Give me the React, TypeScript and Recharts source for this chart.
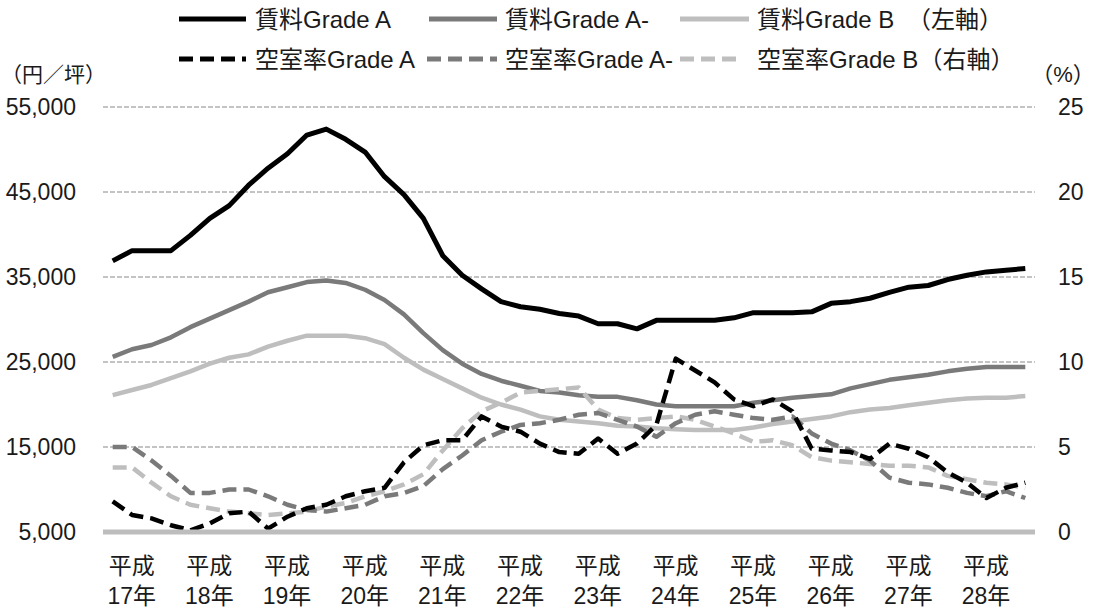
import React from 'react';
import { LineChart, Line, XAxis, YAxis, CartesianGrid, Legend } from 'recharts';

const quarters = [
  '17Q1', '17Q2', '17Q3', '17Q4', '18Q1', '18Q2', '18Q3', '18Q4',
  '19Q1', '19Q2', '19Q3', '19Q4', '20Q1', '20Q2', '20Q3', '20Q4',
  '21Q1', '21Q2', '21Q3', '21Q4', '22Q1', '22Q2', '22Q3', '22Q4',
  '23Q1', '23Q2', '23Q3', '23Q4', '24Q1', '24Q2', '24Q3', '24Q4',
  '25Q1', '25Q2', '25Q3', '25Q4', '26Q1', '26Q2', '26Q3', '26Q4',
  '27Q1', '27Q2', '27Q3', '27Q4', '28Q1', '28Q2', '28Q3', '28Q4',
];
const yearTicks = ['17Q1', '18Q1', '19Q1', '20Q1', '21Q1', '22Q1', '23Q1', '24Q1', '25Q1', '26Q1', '27Q1', '28Q1'];
const eraLabel = '平成';
const yearLabels = ['17年', '18年', '19年', '20年', '21年', '22年', '23年', '24年', '25年', '26年', '27年', '28年'];

const leftTicks = [5000, 15000, 25000, 35000, 45000, 55000];
const rightTicks = [0, 5, 10, 15, 20, 25];

// 賃料 (円/坪)
const rentA = [
  36900, 38100, 38100, 38100, 39900, 41900, 43400, 45800, 47800, 49500,
  51700, 52400, 51200, 49700, 46800, 44700, 41900, 37500, 35200, 33600,
  32100, 31500, 31200, 30700, 30400, 29500, 29500, 28900, 29900, 29900,
  29900, 29900, 30200, 30800, 30800, 30800, 30900, 31900, 32100, 32500,
  33200, 33800, 34000, 34700, 35200, 35600, 35800, 36000,
];
const rentAm = [
  25600, 26500, 27000, 27900, 29100, 30100, 31100, 32100, 33200, 33800,
  34400, 34600, 34300, 33500, 32300, 30600, 28400, 26400, 24800, 23600,
  22800, 22200, 21600, 21400, 21100, 20900, 20900, 20500, 20000, 19800,
  19800, 19800, 19800, 20200, 20500, 20800, 21000, 21200, 21900, 22400,
  22900, 23200, 23500, 23900, 24200, 24400, 24400, 24400,
];
const rentB = [
  21100, 21700, 22300, 23100, 23900, 24800, 25500, 25900, 26800, 27500,
  28100, 28100, 28100, 27800, 27100, 25500, 24100, 23000, 21900, 20800,
  20000, 19400, 18600, 18200, 18000, 17800, 17500, 17400, 17200, 17100,
  17000, 17000, 17000, 17300, 17700, 18000, 18300, 18600, 19100, 19400,
  19600, 19900, 20200, 20500, 20700, 20800, 20800, 21000,
];
// 空室率 (%)
const vacA = [
  1.8, 1.0, 0.8, 0.4, 0.1, 0.5, 1.1, 1.2, 0.2, 0.9,
  1.4, 1.6, 2.1, 2.4, 2.6, 4.1, 5.1, 5.4, 5.4, 6.8,
  6.2, 5.9, 5.2, 4.7, 4.6, 5.5, 4.6, 5.2, 6.3, 10.2,
  9.5, 8.8, 7.8, 7.4, 7.8, 7.1, 4.9, 4.8, 4.7, 4.3,
  5.2, 4.9, 4.4, 3.5, 2.9, 2.0, 2.6, 2.9,
];
const vacAm = [
  5.0, 5.0, 4.2, 3.3, 2.3, 2.3, 2.5, 2.5, 2.1, 1.6,
  1.3, 1.2, 1.4, 1.6, 2.1, 2.3, 2.7, 3.7, 4.5, 5.4,
  5.9, 6.3, 6.4, 6.6, 6.9, 7.0, 6.6, 6.2, 5.6, 6.4,
  6.9, 7.1, 6.9, 6.7, 6.6, 6.8, 5.8, 5.2, 4.8, 4.2,
  3.2, 2.9, 2.8, 2.6, 2.3, 2.1, 2.4, 2.0,
];
const vacB = [
  3.8, 3.8, 2.9, 2.1, 1.6, 1.4, 1.2, 1.1, 1.0, 1.1,
  1.2, 1.5, 1.7, 2.1, 2.4, 2.8, 3.4, 4.8, 6.1, 7.1,
  7.6, 8.2, 8.3, 8.4, 8.5, 7.2, 6.7, 6.6, 6.7, 6.8,
  6.6, 6.2, 5.8, 5.3, 5.4, 5.1, 4.4, 4.2, 4.1, 4.0,
  3.9, 3.9, 3.8, 3.3, 3.1, 2.9, 2.8, 2.6,
];

const data = quarters.map((q, i) => ({
  q,
  rentA: rentA[i],
  rentAm: rentAm[i],
  rentB: rentB[i],
  vacA: vacA[i],
  vacAm: vacAm[i],
  vacB: vacB[i],
}));

const BLACK = '#000000';
const MID = '#7a7a7a';
const LIGHT = '#bebebe';
const DASH = '14 7';
const FONT = '"Liberation Sans", Arial, "Noto Sans CJK JP", sans-serif';
const TEXT = '#1a1a1a';

const legendRow1 = [
  { label: '賃料Grade A', color: BLACK, dash: undefined, x1: 179, x2: 246, tx: 255 },
  { label: '賃料Grade A-', color: MID, dash: undefined, x1: 429, x2: 497, tx: 505 },
  { label: '賃料Grade B', color: LIGHT, dash: undefined, x1: 680, x2: 749, tx: 757 },
];
const legendRow2 = [
  { label: '空室率Grade A', color: BLACK, dash: DASH, x1: 179, x2: 246, tx: 255 },
  { label: '空室率Grade A-', color: MID, dash: DASH, x1: 427, x2: 497, tx: 505 },
  { label: '空室率Grade B（右軸）', color: LIGHT, dash: DASH, x1: 680, x2: 741, tx: 757 },
];

const renderLegend = () => (
  <svg width={1104} height={100} style={{ display: 'block', fontFamily: FONT }}>
    {legendRow1.map((it) => (
      <g key={it.label}>
        <line x1={it.x1} x2={it.x2} y1={19} y2={19} stroke={it.color} strokeWidth={5} />
        <text x={it.tx} y={19} dominantBaseline="central" fontSize={24} fill={TEXT}>{it.label}</text>
      </g>
    ))}
    <text x={907} y={19} dominantBaseline="central" fontSize={24} fill={TEXT}>（左軸）</text>
    {legendRow2.map((it) => (
      <g key={it.label}>
        <line x1={it.x1} x2={it.x2} y1={59} y2={59} stroke={it.color} strokeWidth={5} strokeDasharray={it.dash} />
        <text x={it.tx} y={59} dominantBaseline="central" fontSize={24} fill={TEXT}>{it.label}</text>
      </g>
    ))}
    <text x={1} y={74} textAnchor="start" dominantBaseline="central" fontSize={21} fill={TEXT}>（円／坪）</text>
    <text x={1063} y={74} textAnchor="middle" dominantBaseline="central" fontSize={22} fill={TEXT}>（%）</text>
  </svg>
);

const XTick = (props: any) => {
  const { x, y, payload } = props;
  const idx = yearTicks.indexOf(payload.value);
  if (idx < 0) return null;
  return (
    <g transform={`translate(${x + 19},${y})`}>
      <text x={0} y={34} textAnchor="middle" dominantBaseline="central" fontSize={23} fill={TEXT} fontFamily={FONT}>{eraLabel}</text>
      <text x={0} y={64} textAnchor="middle" dominantBaseline="central" fontSize={23} fill={TEXT} fontFamily={FONT}>{yearLabels[idx]}</text>
    </g>
  );
};

export default function App() {
  return (
    <div style={{ position: 'absolute', left: 0, top: 0, width: 1104, height: 609, background: '#fff' }}>
      <LineChart width={1104} height={609} data={data} margin={{ top: 107, right: 0, bottom: 0, left: 0 }}>
        <CartesianGrid yAxisId="left" vertical={false} stroke="#888" strokeDasharray="5 2" strokeWidth={1} />
        <XAxis
          dataKey="q"
          height={77}
          ticks={yearTicks}
          interval={0}
          tick={<XTick />}
          tickLine={false}
          tickSize={0}
          tickMargin={0}
          axisLine={{ stroke: '#bdbdbd', strokeWidth: 5 }}
          padding={{ left: 9.7, right: 9.7 }}
        />
        <YAxis
          yAxisId="left"
          orientation="left"
          width={103}
          domain={[5000, 55000]}
          ticks={leftTicks}
          interval={0}
          tickFormatter={(v: number) => v.toLocaleString('en-US')}
          axisLine={false}
          tickLine={false}
          tickSize={0}
          tickMargin={27}
          tick={{ fontSize: 23, fill: TEXT, fontFamily: FONT }}
        />
        <YAxis
          yAxisId="right"
          orientation="right"
          width={69}
          domain={[0, 25]}
          ticks={rightTicks}
          interval={0}
          axisLine={false}
          tickLine={false}
          tickSize={0}
          tickMargin={23}
          tick={{ fontSize: 23, fill: TEXT, fontFamily: FONT, textAnchor: 'start' }}
        />
        <Legend
          verticalAlign="middle"
          align="center"
          layout="horizontal"
          wrapperStyle={{ top: 0, left: 0, width: 1104, height: 100 }}
          content={renderLegend}
        />
        <Line yAxisId="left" dataKey="rentB" name="賃料Grade B" stroke={LIGHT} strokeWidth={4.5} dot={false} isAnimationActive={false} strokeLinejoin="round" />
        <Line yAxisId="left" dataKey="rentAm" name="賃料Grade A-" stroke={MID} strokeWidth={4.5} dot={false} isAnimationActive={false} strokeLinejoin="round" />
        <Line yAxisId="left" dataKey="rentA" name="賃料Grade A" stroke={BLACK} strokeWidth={5} dot={false} isAnimationActive={false} strokeLinejoin="round" />
        <Line yAxisId="right" dataKey="vacB" name="空室率Grade B" stroke={LIGHT} strokeWidth={4.5} strokeDasharray={DASH} dot={false} isAnimationActive={false} strokeLinejoin="round" />
        <Line yAxisId="right" dataKey="vacAm" name="空室率Grade A-" stroke={MID} strokeWidth={4.5} strokeDasharray={DASH} dot={false} isAnimationActive={false} strokeLinejoin="round" />
        <Line yAxisId="right" dataKey="vacA" name="空室率Grade A" stroke={BLACK} strokeWidth={4.5} strokeDasharray={DASH} dot={false} isAnimationActive={false} strokeLinejoin="round" />
      </LineChart>
    </div>
  );
}
